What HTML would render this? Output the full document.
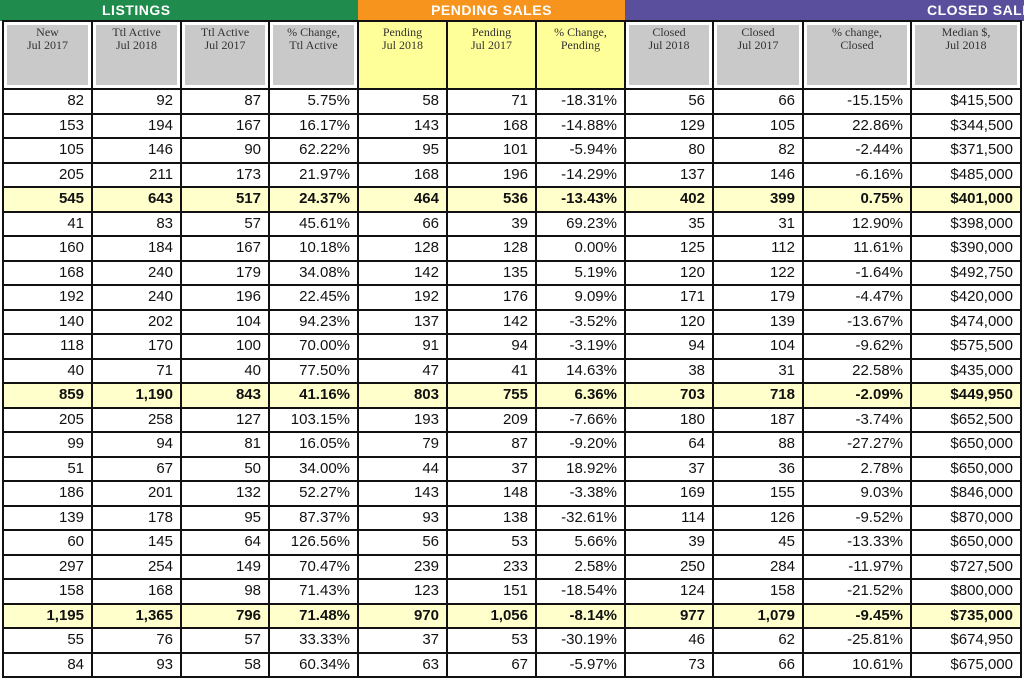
<!DOCTYPE html>
<html><head><meta charset="utf-8"><style>
body{margin:0;width:1024px;height:682px;overflow:hidden;background:#fff;position:relative;font-family:"Liberation Sans",Arial,sans-serif}
.band{position:absolute;top:0;height:21px;color:#fff;font-weight:bold;font-size:14px;line-height:21px;letter-spacing:0.5px;white-space:nowrap;overflow:hidden}
table{position:absolute;left:2px;top:20px;border-collapse:collapse;table-layout:fixed;width:1020px}
td{border:2px solid #111;padding:0 7px 0 0;text-align:right;font-size:15px;color:#111;height:22.5px;line-height:20px;overflow:hidden;white-space:nowrap}
tr.h td{height:62px;background:#c9c9c9;box-shadow:inset 0 0 0 3px #fff;font-family:"Liberation Serif",serif;font-size:12px;line-height:13px;text-align:center;vertical-align:top;padding:4px 0 0 0;color:#333}
tr.h td.y{background:#ffff99;box-shadow:none}
tr.t td{background:#ffffcc;font-weight:bold}
</style></head><body>
<div class="band" style="left:0;width:358px;background:#1f8b4c"><span style="position:absolute;left:102px">LISTINGS</span></div>
<div class="band" style="left:358px;width:267px;background:#f7941d;text-align:center">PENDING SALES</div>
<div class="band" style="left:625px;width:399px;background:#5a4f9c"><span style="position:absolute;left:302px">CLOSED SALES</span></div>
<table>
<colgroup><col style="width:89px"><col style="width:89px"><col style="width:88px"><col style="width:89px"><col style="width:89px"><col style="width:89px"><col style="width:89px"><col style="width:88px"><col style="width:90px"><col style="width:108px"><col style="width:110px"></colgroup>
<tr class="h"><td>New<br>Jul 2017</td><td>Ttl Active<br>Jul 2018</td><td>Ttl Active<br>Jul 2017</td><td>% Change,<br>Ttl Active</td><td class="y">Pending<br>Jul 2018</td><td class="y">Pending<br>Jul 2017</td><td class="y">% Change,<br>Pending</td><td>Closed<br>Jul 2018</td><td>Closed<br>Jul 2017</td><td>% change,<br>Closed</td><td>Median $,<br>Jul 2018</td></tr>
<tr><td>82</td><td>92</td><td>87</td><td>5.75%</td><td>58</td><td>71</td><td>-18.31%</td><td>56</td><td>66</td><td>-15.15%</td><td>$415,500</td></tr>
<tr><td>153</td><td>194</td><td>167</td><td>16.17%</td><td>143</td><td>168</td><td>-14.88%</td><td>129</td><td>105</td><td>22.86%</td><td>$344,500</td></tr>
<tr><td>105</td><td>146</td><td>90</td><td>62.22%</td><td>95</td><td>101</td><td>-5.94%</td><td>80</td><td>82</td><td>-2.44%</td><td>$371,500</td></tr>
<tr><td>205</td><td>211</td><td>173</td><td>21.97%</td><td>168</td><td>196</td><td>-14.29%</td><td>137</td><td>146</td><td>-6.16%</td><td>$485,000</td></tr>
<tr class="t"><td>545</td><td>643</td><td>517</td><td>24.37%</td><td>464</td><td>536</td><td>-13.43%</td><td>402</td><td>399</td><td>0.75%</td><td>$401,000</td></tr>
<tr><td>41</td><td>83</td><td>57</td><td>45.61%</td><td>66</td><td>39</td><td>69.23%</td><td>35</td><td>31</td><td>12.90%</td><td>$398,000</td></tr>
<tr><td>160</td><td>184</td><td>167</td><td>10.18%</td><td>128</td><td>128</td><td>0.00%</td><td>125</td><td>112</td><td>11.61%</td><td>$390,000</td></tr>
<tr><td>168</td><td>240</td><td>179</td><td>34.08%</td><td>142</td><td>135</td><td>5.19%</td><td>120</td><td>122</td><td>-1.64%</td><td>$492,750</td></tr>
<tr><td>192</td><td>240</td><td>196</td><td>22.45%</td><td>192</td><td>176</td><td>9.09%</td><td>171</td><td>179</td><td>-4.47%</td><td>$420,000</td></tr>
<tr><td>140</td><td>202</td><td>104</td><td>94.23%</td><td>137</td><td>142</td><td>-3.52%</td><td>120</td><td>139</td><td>-13.67%</td><td>$474,000</td></tr>
<tr><td>118</td><td>170</td><td>100</td><td>70.00%</td><td>91</td><td>94</td><td>-3.19%</td><td>94</td><td>104</td><td>-9.62%</td><td>$575,500</td></tr>
<tr><td>40</td><td>71</td><td>40</td><td>77.50%</td><td>47</td><td>41</td><td>14.63%</td><td>38</td><td>31</td><td>22.58%</td><td>$435,000</td></tr>
<tr class="t"><td>859</td><td>1,190</td><td>843</td><td>41.16%</td><td>803</td><td>755</td><td>6.36%</td><td>703</td><td>718</td><td>-2.09%</td><td>$449,950</td></tr>
<tr><td>205</td><td>258</td><td>127</td><td>103.15%</td><td>193</td><td>209</td><td>-7.66%</td><td>180</td><td>187</td><td>-3.74%</td><td>$652,500</td></tr>
<tr><td>99</td><td>94</td><td>81</td><td>16.05%</td><td>79</td><td>87</td><td>-9.20%</td><td>64</td><td>88</td><td>-27.27%</td><td>$650,000</td></tr>
<tr><td>51</td><td>67</td><td>50</td><td>34.00%</td><td>44</td><td>37</td><td>18.92%</td><td>37</td><td>36</td><td>2.78%</td><td>$650,000</td></tr>
<tr><td>186</td><td>201</td><td>132</td><td>52.27%</td><td>143</td><td>148</td><td>-3.38%</td><td>169</td><td>155</td><td>9.03%</td><td>$846,000</td></tr>
<tr><td>139</td><td>178</td><td>95</td><td>87.37%</td><td>93</td><td>138</td><td>-32.61%</td><td>114</td><td>126</td><td>-9.52%</td><td>$870,000</td></tr>
<tr><td>60</td><td>145</td><td>64</td><td>126.56%</td><td>56</td><td>53</td><td>5.66%</td><td>39</td><td>45</td><td>-13.33%</td><td>$650,000</td></tr>
<tr><td>297</td><td>254</td><td>149</td><td>70.47%</td><td>239</td><td>233</td><td>2.58%</td><td>250</td><td>284</td><td>-11.97%</td><td>$727,500</td></tr>
<tr><td>158</td><td>168</td><td>98</td><td>71.43%</td><td>123</td><td>151</td><td>-18.54%</td><td>124</td><td>158</td><td>-21.52%</td><td>$800,000</td></tr>
<tr class="t"><td>1,195</td><td>1,365</td><td>796</td><td>71.48%</td><td>970</td><td>1,056</td><td>-8.14%</td><td>977</td><td>1,079</td><td>-9.45%</td><td>$735,000</td></tr>
<tr><td>55</td><td>76</td><td>57</td><td>33.33%</td><td>37</td><td>53</td><td>-30.19%</td><td>46</td><td>62</td><td>-25.81%</td><td>$674,950</td></tr>
<tr><td>84</td><td>93</td><td>58</td><td>60.34%</td><td>63</td><td>67</td><td>-5.97%</td><td>73</td><td>66</td><td>10.61%</td><td>$675,000</td></tr>
</table>
</body></html>
